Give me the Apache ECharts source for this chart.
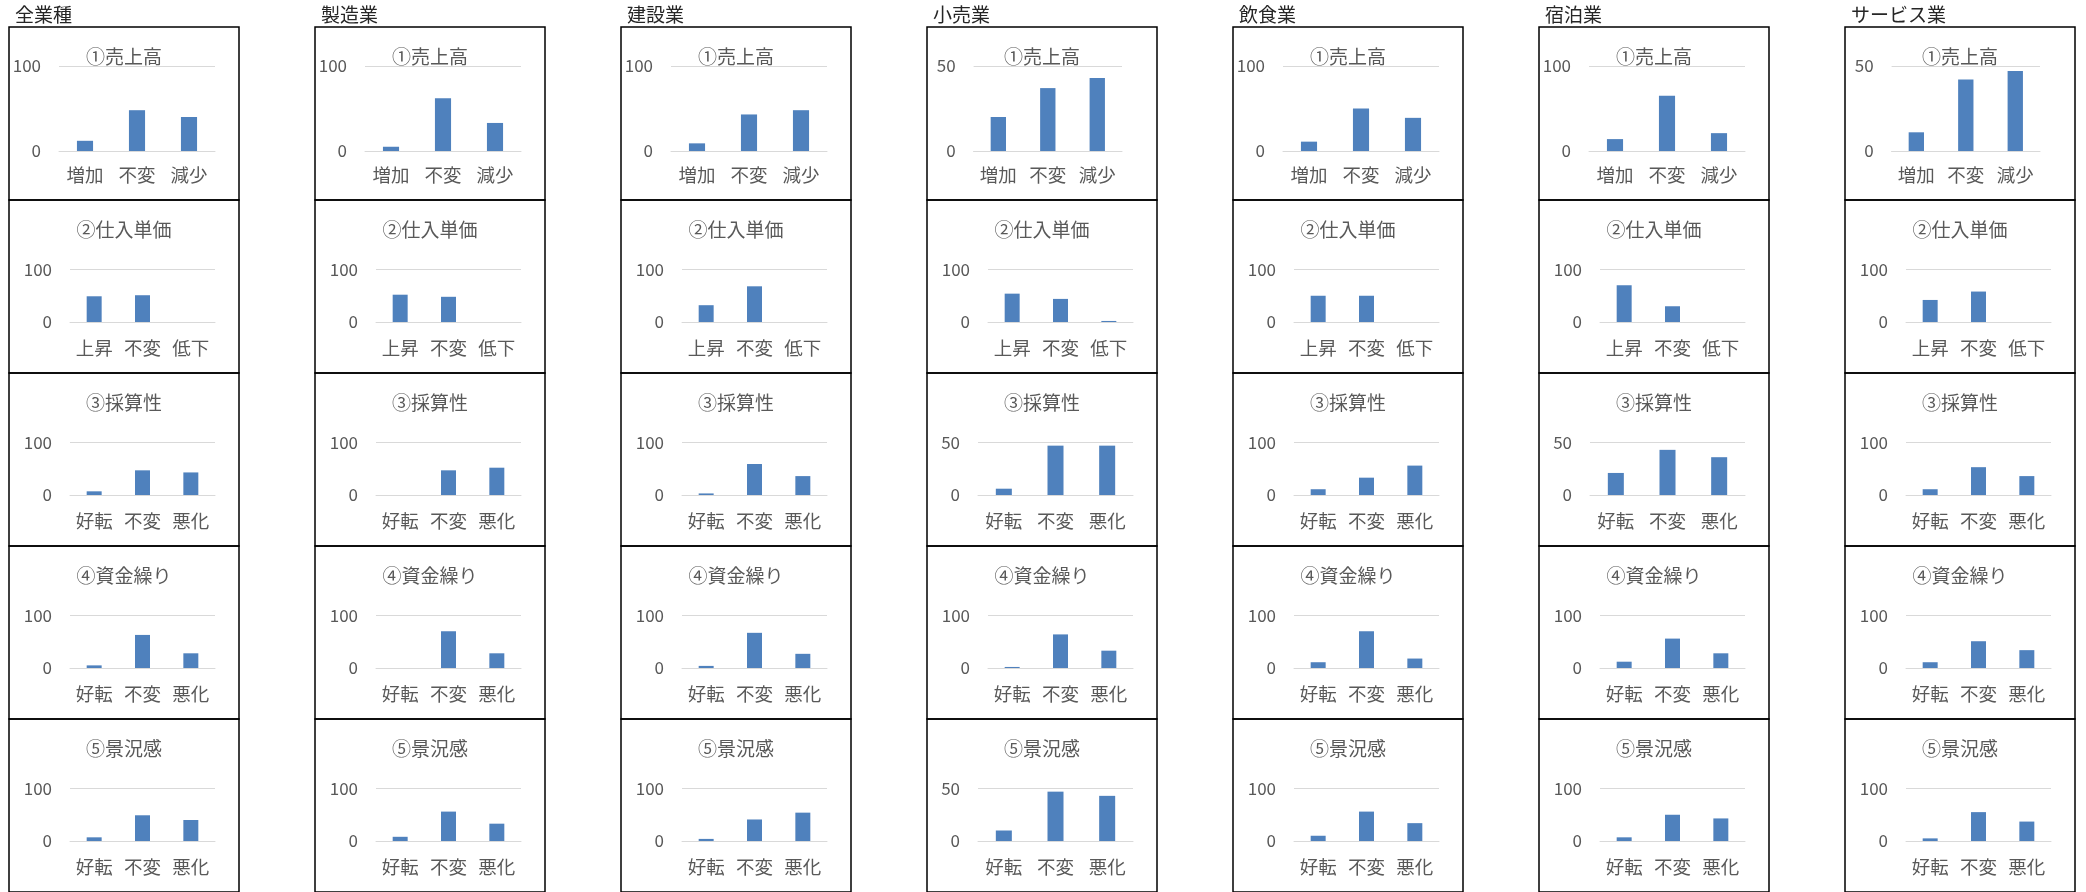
<!DOCTYPE html>
<html><head><meta charset="utf-8">
<script src="https://cdn.jsdelivr.net/npm/echarts@6/dist/echarts.min.js"></script>
<style>html,body{margin:0;padding:0;background:#fff}#c{width:2086px;height:892px}</style>
</head><body><div id="c"></div><script>
// ---- data ----
const industries = ['全業種','製造業','建設業','小売業','飲食業','宿泊業','サービス業'];
const itemTitles = ['①売上高','②仕入単価','③採算性','④資金繰り','⑤景況感'];
const salesCats = ['増加','不変','減少'];
const priceCats = ['上昇','不変','低下'];
const trendCats = ['好転','不変','悪化'];
const itemCats = [salesCats, priceCats, trendCats, trendCats, trendCats];

const allIndustries = [[12,48,40],[49,51,0],[7,47,43],[5,63,28],[7,49,40]];
const manufacturing = [[5,62,33],[52,48,0],[0,47,52],[0,70,28],[8,56,33]];
const construction  = [[9,43,48],[32,68,0],[3,59,36],[4,67,27],[4,41,54]];
const retail        = [[20,37,43],[54,44,2],[6,47,47],[2,64,33],[10,47,43]];
const restaurant    = [[11,50,39],[50,50,0],[11,33,56],[11,70,18],[10,56,34]];
const lodging       = [[14,65,21],[70,30,0],[21,43,36],[12,56,28],[7,50,43]];
const services      = [[11,42,47],[42,58,0],[11,53,36],[11,51,34],[5,55,37]];
const industryValues = [allIndustries, manufacturing, construction, retail, restaurant, lodging, services];

const allIndustriesMax = [100,100,100,100,100];
const manufacturingMax = [100,100,100,100,100];
const constructionMax  = [100,100,100,100,100];
const retailMax        = [50,100,50,100,50];
const restaurantMax    = [100,100,100,100,100];
const lodgingMax       = [100,100,50,100,100];
const servicesMax      = [50,100,100,100,100];
const industryMax = [allIndustriesMax, manufacturingMax, constructionMax, retailMax, restaurantMax, lodgingMax, servicesMax];

// ---- layout / styling ----
const FONT = '"Noto Sans CJK JP","Noto Sans",sans-serif';
const GREY = '#595959';
const BAR = '#4f81bd';
const colX0 = 9, colStep = 306, boxW = 230;
const rowY0 = 27, boxH = 173;

const grids = [], xAxes = [], yAxes = [], series = [], graphics = [];
let k = 0;
industries.forEach((name, i) => {
  const bx = colX0 + colStep * i;
  graphics.push({type:'text', x: bx + 6, y: 15, style:{text:name, fontSize:19, fontFamily:FONT, fill:'#262626', align:'left', verticalAlign:'middle'}});
  itemTitles.forEach((t, j) => {
    const by = rowY0 + boxH * j;
    const max = industryMax[i][j];
    let gl, gr, gt, zero, lblMargin;
    if (j === 0) {
      gl = max === 50 ? 46.6 : 50; gr = max === 50 ? 35 : 24; gt = 39; zero = 124; lblMargin = 15;
    } else {
      gl = max === 50 ? 51 : 61; gr = 24; gt = 69.5; zero = 122; lblMargin = 17;
    }
    graphics.push({type:'rect', shape:{x:bx, y:by, width:boxW, height:boxH}, style:{fill:'none', stroke:'#000', lineWidth:1.5}, z:10});
    graphics.push({type:'text', x: bx + boxW/2, y: by + 30, style:{text:t, fontSize:19, fontFamily:FONT, fill:GREY, align:'center', verticalAlign:'middle'}, z:5});
    grids.push({left: bx + gl, top: by + gt, width: boxW - gl - gr, height: zero - gt, containLabel:false});
    xAxes.push({type:'category', gridIndex:k, data:itemCats[j],
      axisLine:{show:true, lineStyle:{color:'#d9d9d9', width:1}}, axisTick:{show:false},
      axisLabel:{color:GREY, fontSize:18.5, fontFamily:FONT, margin:lblMargin, interval:0}});
    yAxes.push({type:'value', gridIndex:k, min:0, max:max, interval:max,
      axisLine:{show:false}, axisTick:{show:false},
      splitLine:{show:true, lineStyle:{color:'#d9d9d9', width:1}},
      axisLabel:{color:GREY, fontSize:17, fontFamily:FONT, margin:18}});
    series.push({type:'bar', xAxisIndex:k, yAxisIndex:k, data:industryValues[i][j], barWidth:'31%',
      itemStyle:{color:BAR}, silent:true});
    k++;
  });
});

const chart = echarts.init(document.getElementById('c'), null, {renderer:'canvas'});
chart.setOption({animation:false, backgroundColor:'#fff', grid:grids, xAxis:xAxes, yAxis:yAxes, series:series, graphic:graphics});
</script></body></html>
